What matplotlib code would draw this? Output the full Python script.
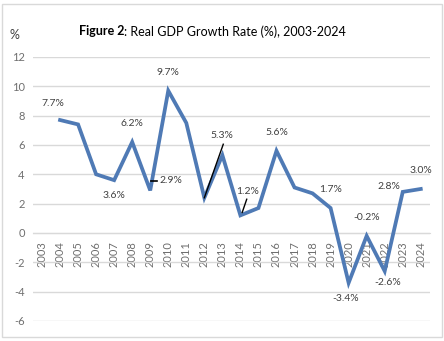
import matplotlib
matplotlib.use("Agg")
import matplotlib.pyplot as plt
from matplotlib.patches import Rectangle

plt.rcParams['font.family'] = ['Lato', 'DejaVu Sans']

years = [str(y) for y in range(2003, 2025)]
# growth series starts in 2004; 2003 has no value
growth = [None, 7.7, 7.4, 4.0, 3.6, 6.2, 2.9, 9.7, 7.5, 2.4, 5.3, 1.2, 1.7,
          5.6, 3.1, 2.7, 1.7, -3.4, -0.2, -2.6, 2.8, 3.0]
labelled = {"2004": 7.7, "2007": 3.6, "2008": 6.2, "2009": 2.9, "2010": 9.7,
            "2013": 5.3, "2014": 1.2, "2016": 5.6, "2019": 1.7, "2020": -3.4,
            "2021": -0.2, "2022": -2.6, "2023": 2.8, "2024": 3.0}
yticks = [-6, -4, -2, 0, 2, 4, 6, 8, 10, 12]

fig = plt.figure(figsize=(4.44, 3.41), dpi=100)
ax = fig.add_axes([0.0743, 0.0587, 0.8937, 0.7743])

xs = [i for i, v in enumerate(growth) if v is not None]
vs = [v for v in growth if v is not None]
ax.plot(xs, vs, color='#4f7ab5', lw=2.7, solid_joinstyle='miter', zorder=3)

ax.spines['bottom'].set_position(('data', 0))
ax.spines['bottom'].set_color('#d9d9d9')
for s in ['top', 'right', 'left']:
    ax.spines[s].set_visible(False)

ax.set_xlim(-0.5, len(years) - 0.5)
ax.set_ylim(-6, 12)
ax.set_yticks(yticks)
ax.set_yticklabels([str(t) for t in yticks], fontsize=8, color='#6f6f6f')
ax.yaxis.grid(True, color='#d9d9d9', lw=1)
ax.set_axisbelow(True)
ax.tick_params(axis='y', length=0, pad=6)

ax.set_xticks(range(len(years)))
ax.set_xticklabels(years, rotation=90, fontsize=8, color='#6f6f6f')
ax.tick_params(axis='x', length=0, pad=6)

# data labels: offsets in points (dx, dy)
offsets = {"2004": (-5, 12), "2007": (0, -11), "2008": (0, 13), "2009": (15, 7),
           "2010": (0, 13), "2013": (0, 14), "2014": (5, 17), "2016": (0, 13),
           "2019": (0, 13), "2020": (-2, -11), "2021": (0, 13), "2022": (2, -8),
           "2023": (-10, 4), "2024": (0, 13)}
for yr, val in labelled.items():
    i = years.index(yr)
    dx, dy = offsets[yr]
    ax.annotate(f"{val:.1f}%", (i, val), xytext=(dx, dy), textcoords='offset points',
                ha='center', va='center', fontsize=7.5, color='#404040', zorder=4)

# leader lines
i09 = years.index("2009")
ax.plot([i09 + 0.05, i09 + 0.35], [3.55, 3.55], color='black', lw=1.2, zorder=4)
i12, i13, i14 = years.index("2012"), years.index("2013"), years.index("2014")
ax.plot([i13 + 0.05, i12], [6.05, 2.4], color='black', lw=1, zorder=4)
ax.plot([i14 + 0.35, i14 + 0.1], [2.3, 1.4], color='black', lw=1, zorder=4)

# title: bold lead-in followed by regular text, centred as one line
t1 = fig.text(0, 0.908, "Figure 2", ha='left', va='center', fontsize=9,
              fontweight='bold', color='black')
t2 = fig.text(0, 0.908, ": Real GDP Growth Rate (%), 2003-2024", ha='left',
              va='center', fontsize=9, color='black')
fig.canvas.draw()
r = fig.canvas.get_renderer()
w1 = t1.get_window_extent(r).width / fig.bbox.width
w2 = t2.get_window_extent(r).width / fig.bbox.width
x0 = 0.478 - (w1 + w2) / 2
t1.set_x(x0)
t2.set_x(x0 + w1)

fig.text(0.032, 0.897, "%", ha='center', va='center', fontsize=9, color='#404040')

fig.patches.append(Rectangle((2 / 444, 4 / 341), 440 / 444, 333 / 341,
                             transform=fig.transFigure, fill=False,
                             edgecolor='#d9d9d9', lw=1))

fig.savefig("out.png", dpi=100)
